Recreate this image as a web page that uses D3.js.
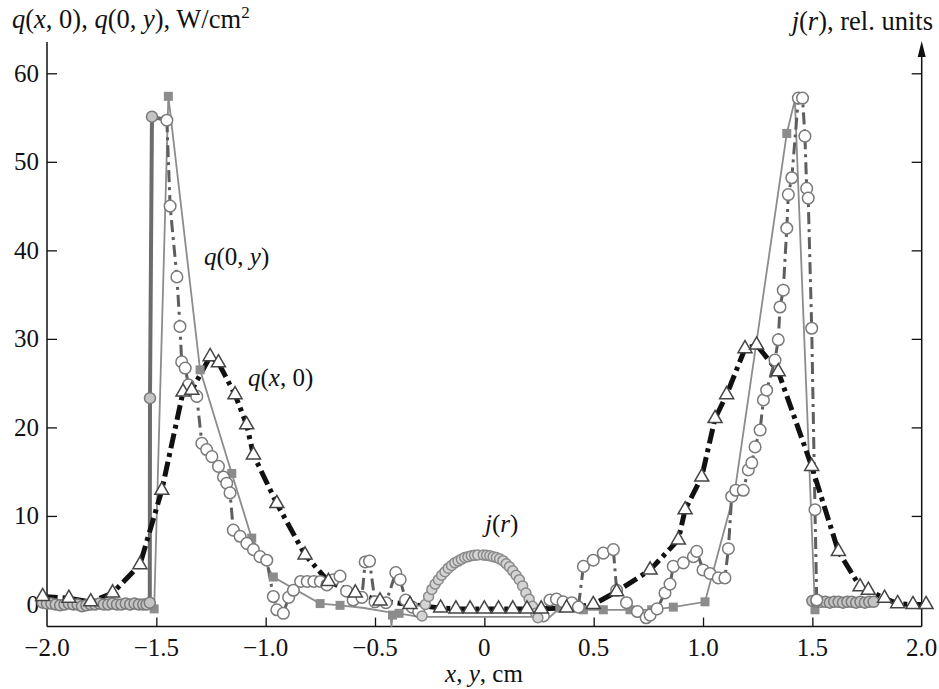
<!DOCTYPE html>
<html>
<head>
<meta charset="utf-8">
<script src="https://cdn.jsdelivr.net/npm/d3@7"></script>
<style>
  body { margin: 0; background: #fff; }
  text { font-family: "Liberation Serif", "Times New Roman", serif; fill: #111; }
</style>
</head>
<body>
<script>
// chart values

var xTicks = [-2, -1.5, -1, -0.5, 0, 0.5, 1, 1.5, 2];
var yTicks = [0, 10, 20, 30, 40, 50, 60];

// q(x, 0) - triangles, black dash-dot
var qx0X = [-2.02, -1.9, -1.8, -1.7, -1.575, -1.475, -1.378, -1.338, -1.254, -1.216, -1.14, -1.087, -1.056, -0.949, -0.82, -0.713, -0.59, -0.477, -0.34, -0.2, -0.13, -0.065, 0.0, 0.065, 0.13, 0.195, 0.26, 0.376, 0.498, 0.605, 0.758, 0.887, 0.918, 0.994, 1.055, 1.108, 1.192, 1.245, 1.344, 1.497, 1.619, 1.718, 1.756, 1.83, 1.89, 1.96, 2.02];
var qx0Y = [0.9, 0.7, 0.3, 1.3, 4.5, 12.9, 24, 24.2, 28, 27.3, 23.7, 20.3, 16.9, 11.4, 5.6, 2.6, 1.3, 0.4, 0, -0.4, -0.5, -0.5, -0.5, -0.5, -0.5, -0.5, -0.5, -0.4, 0, 1.45, 3.9, 7.3, 10.7, 14.4, 21, 23.7, 28.9, 29.3, 26.3, 15.6, 6.0, 2.0, 1.6, 0.7, 0.1, 0, 0];

// calculated profile - grey squares, thin grey line
var calcX = [-1.51, -1.445, -1.3, -1.155, -1.064, -0.965, -0.751, -0.66, -0.55, -0.43, -0.425, -0.42, -0.39, -0.3, 0.3, 0.345, 0.453, 0.544, 0.666, 0.765, 0.864, 1.009, 1.146, 1.383, 1.42, 1.512];
var calcY = [-0.5, 57.4, 26.5, 14.8, 7.5, 3.1, 0.1, -0.1, -0.4, -0.9, -2.5, -1.2, -1.0, -1.4, -1.4, -0.4, -0.6, -0.6, -0.6, -0.6, -0.3, 0.3, 12.9, 53.2, 57.0, -0.6];
var calcMark = [1, 1, 1, 1, 1, 1, 1, 1, 0, 0, 0, 1, 1, 0, 0, 1, 1, 1, 1, 1, 1, 1, 1, 1, 0, 1];

// measured q(0, y) - open circles, grey dash-dot (null = gap)
var measX = [-1.452, -1.437, -1.406, -1.392, -1.384, -1.368, -1.353, -1.315, -1.292, -1.27, -1.246, -1.216, -1.193, -1.178, -1.163, -1.148, -1.117, -1.086, -1.056, -1.026, -0.995, -0.965, -0.949, -0.919, -0.895, -0.873, -0.84, -0.81, -0.78, -0.75, -0.72, -0.69, -0.66, -0.63, -0.6, -0.56, -0.545, -0.525, -0.5, -0.45, -0.405, -0.385, -0.36, -0.33, -0.3,
  0, 0.27, 0.3, 0.33, 0.36, 0.4, 0.43, 0.453, 0.498, 0.544, 0.59, 0.605, 0.65, 0.7, 0.74, 0.758, 0.79, 0.826, 0.849, 0.864, 0.91, 0.956, 0.971, 1.0, 1.032, 1.07, 1.1, 1.116, 1.131, 1.15, 1.184, 1.207, 1.223, 1.238, 1.261, 1.276, 1.291, 1.329, 1.344, 1.352, 1.367, 1.383, 1.39, 1.406, 1.436, 1.455, 1.466, 1.474, 1.481, 1.497, 1.512, 1.52];
var measY = [54.7, 45, 37, 31.4, 27.4, 26.7, 24.8, 23.5, 18.2, 17.5, 16.7, 15.6, 14.4, 13.7, 12.6, 8.4, 7.7, 6.9, 6.2, 5.4, 5.0, 0.9, -0.6, -1.0, 0.8, 1.6, 2.6, 2.6, 2.6, 2.6, 2.2, 2.8, 3.2, 1.5, 0.5, 0.8, 4.8, 4.9, 0.3, 0.2, 3.6, 2.8, 0.5, -0.3, -0.8,
  null, -1.3, 0.5, 0.6, 0.3, 0.2, -0.3, 4.3, 5.0, 5.8, 6.2, 1.6, 0.2, -0.8, -1.5, -1.2, -0.5, 1.3, 2.3, 4.3, 4.7, 5.4, 6.0, 3.9, 3.5, 3.0, 3.0, 6.3, 12.2, 12.9, 12.9, 15.2, 16, 17.8, 19.7, 23.1, 24.2, 27.6, 29.9, 33.6, 35.5, 42.5, 46.3, 48.2, 57.2, 57.2, 52.9, 47, 45.9, 31.2, 10.7, 0.5];

// edge parts - grey filled circles on thick grey line
var edgeLX = [-2.02, -2.0, -1.98, -1.96, -1.94, -1.92, -1.9, -1.88, -1.86, -1.84, -1.82, -1.8, -1.78, -1.76, -1.74, -1.72, -1.7, -1.68, -1.66, -1.64, -1.62, -1.6, -1.58, -1.56, -1.545, -1.53, -1.529, -1.52];
var edgeLY = [0.2, 0.1, 0.1, 0, -0.1, 0, 0.1, 0, 0, -0.2, -0.1, 0, 0, 0.1, 0, 0, 0.1, 0, 0, 0.1, 0, 0.1, 0, 0, 0, 0.2, 23.3, 55.1];
var edgeRX = [1.5, 1.52, 1.54, 1.56, 1.58, 1.6, 1.62, 1.64, 1.66, 1.68, 1.7, 1.72, 1.74, 1.76, 1.78];
var edgeRY = [0.4, 0.3, 0.3, 0.3, 0.2, 0.3, 0.3, 0.2, 0.3, 0.3, 0.2, 0.3, 0.2, 0.3, 0.3];

// j(r) arc
var jrX = [-0.285, -0.27, -0.255, -0.24, -0.225, -0.21, -0.195, -0.18, -0.165, -0.15, -0.135, -0.12, -0.105, -0.09, -0.075, -0.06, -0.045, -0.03, -0.005, 0.01, 0.025, 0.04, 0.055, 0.07, 0.085, 0.1, 0.115, 0.13, 0.145, 0.16, 0.175, 0.19, 0.205, 0.22, 0.235, 0.245];
var jrY = [-1.3, 0.0, 0.9, 1.7, 2.3, 2.8, 3.3, 3.7, 4.1, 4.4, 4.7, 4.9, 5.1, 5.3, 5.4, 5.5, 5.55, 5.6, 5.6, 5.55, 5.5, 5.4, 5.3, 5.15, 4.95, 4.6, 4.25, 3.8, 3.3, 2.8, 2.1, 1.3, 0.6, -0.2, -1.0, -1.5];

var zip = function(xs, ys) {
  return xs.map(function(v, i) { return [v, ys[i]]; });
};

var svg = d3.select('body').append('svg').attr('width', 939).attr('height', 689);

var x = d3.scaleLinear().domain([-2, 2]).range([47, 921.7]);
var y = d3.scaleLinear().domain([-2.5, 63.5]).range([626.6, 42.3]);

var line = d3.line()
  .defined(function(d) { return d[1] != null; })
  .x(function(d) { return x(d[0]); })
  .y(function(d) { return y(d[1]); });

// axes - inner ticks only, frame drawn by hand
var bottom = svg.append('g').attr('transform', 'translate(0,' + y(-2.5) + ')')
  .call(d3.axisTop(x).tickValues(xTicks.slice(1, -1)).tickSize(9).tickFormat(''));
var left = svg.append('g').attr('transform', 'translate(' + x(-2) + ',0)')
  .call(d3.axisRight(y).tickValues(yTicks).tickSize(10).tickFormat(''));
var right = svg.append('g').attr('transform', 'translate(' + x(2) + ',0)')
  .call(d3.axisLeft(y).tickValues(yTicks).tickSize(10).tickFormat(''));
[bottom, left, right].forEach(function(g) {
  g.select('.domain').remove();
  g.selectAll('line').attr('stroke', '#111').attr('stroke-width', 1.3);
});

svg.append('line').attr('x1', x(-2)).attr('x2', x(2)).attr('y1', y(-2.5)).attr('y2', y(-2.5))
  .attr('stroke', '#111').attr('stroke-width', 1.5);
svg.append('line').attr('x1', x(-2)).attr('x2', x(-2)).attr('y1', 42).attr('y2', y(-2.5))
  .attr('stroke', '#111').attr('stroke-width', 1.5);
svg.append('line').attr('x1', x(2)).attr('x2', x(2)).attr('y1', 52).attr('y2', y(-2.5))
  .attr('stroke', '#111').attr('stroke-width', 1.5);
// arrow on the j(r) axis
svg.append('path')
  .attr('d', 'M' + x(2) + ',41 l-4,16 l8,0 z')
  .attr('fill', '#111');

// tick labels
var fmt = function(v) { return v === 0 ? '0' : d3.format('.1f')(v); };
svg.selectAll('.xl').data(xTicks).enter().append('text')
  .attr('x', function(d) { return x(d); }).attr('y', 656)
  .attr('text-anchor', 'middle').style('font-size', '25px')
  .text(fmt);
svg.selectAll('.yl').data(yTicks).enter().append('text')
  .attr('x', 39).attr('y', function(d) { return y(d); }).attr('dy', '0.33em')
  .attr('text-anchor', 'end').style('font-size', '25px')
  .text(function(d) { return d; });

// text made of [string, italic?] pieces
var rich = function(px, py, size, anchor, parts) {
  var t = svg.append('text').attr('x', px).attr('y', py)
    .attr('text-anchor', anchor).style('font-size', size + 'px');
  parts.forEach(function(p) {
    var s = t.append('tspan').text(p[0]);
    if (p[1] === 1) s.style('font-style', 'italic');
    if (p[1] === 2) s.attr('dy', -10).style('font-size', '17px');
  });
  return t;
};

rich(12, 28, 26.5, 'start', [['q', 1], ['('], ['x', 1], [', 0), '], ['q', 1], ['(0, '], ['y', 1], ['), W/cm'], ['2', 2]]);
rich(933, 30, 26.5, 'end', [['j', 1], ['('], ['r', 1], ['), rel. units']]);
rich(484, 682, 25, 'middle', [['x', 1], [', '], ['y', 1], [', cm']]);
rich(204, 265, 25, 'start', [['q', 1], ['(0, '], ['y', 1], [')']]);
rich(248, 386, 25, 'start', [['q', 1], ['('], ['x', 1], [', 0)']]);
rich(485, 532, 25, 'start', [['j', 1], ['('], ['r', 1], [')']]);

// lines
svg.append('path').datum(zip(calcX, calcY)).attr('d', line)
  .attr('fill', 'none').attr('stroke', '#8c8c8c').attr('stroke-width', 1.8);
svg.append('path').datum(zip(measX, measY)).attr('d', line)
  .attr('fill', 'none').attr('stroke', '#5e5e5e').attr('stroke-width', 3).attr('stroke-dasharray', '12,5,3,5');
svg.append('path').datum(zip(edgeLX, edgeLY).concat([[measX[0], measY[0]]])).attr('d', line)
  .attr('fill', 'none').attr('stroke', '#6c6c6c').attr('stroke-width', 4);
svg.append('path').datum(zip(edgeRX, edgeRY)).attr('d', line)
  .attr('fill', 'none').attr('stroke', '#6c6c6c').attr('stroke-width', 4);
svg.append('path').datum(zip(qx0X, qx0Y)).attr('d', line)
  .attr('fill', 'none').attr('stroke', '#111').attr('stroke-width', 5).attr('stroke-dasharray', '15,5,4,5');

// markers
svg.selectAll('.sq').data(zip(calcX, calcY).filter(function(d, i) { return calcMark[i]; }))
  .enter().append('rect').attr('class', 'sq')
  .attr('x', function(d) { return x(d[0]) - 4.5; }).attr('y', function(d) { return y(d[1]) - 4.5; })
  .attr('width', 9).attr('height', 9).attr('fill', '#8c8c8c');

var dots = function(data, r, fill, stroke) {
  svg.append('g').selectAll('circle').data(data.filter(function(d) { return d[1] != null; }))
    .enter().append('circle')
    .attr('cx', function(d) { return x(d[0]); }).attr('cy', function(d) { return y(d[1]); })
    .attr('r', r).attr('fill', fill).attr('stroke', stroke).attr('stroke-width', 1.5);
};
dots(zip(edgeLX, edgeLY), 5.5, '#c4c4c4', '#7a7a7a');
dots(zip(edgeRX, edgeRY), 5.5, '#c4c4c4', '#7a7a7a');
dots(zip(measX, measY), 5.8, '#fff', '#7a7a7a');
dots(zip(jrX, jrY), 5, '#d4d4d4', '#8a8a8a');

svg.append('g').selectAll('path').data(zip(qx0X, qx0Y)).enter().append('path')
  .attr('transform', function(d) { return 'translate(' + x(d[0]) + ',' + y(d[1]) + ')'; })
  .attr('d', d3.symbol(d3.symbolTriangle, 85))
  .attr('fill', '#fff').attr('stroke', '#444').attr('stroke-width', 1.5);
</script>
</body>
</html>
